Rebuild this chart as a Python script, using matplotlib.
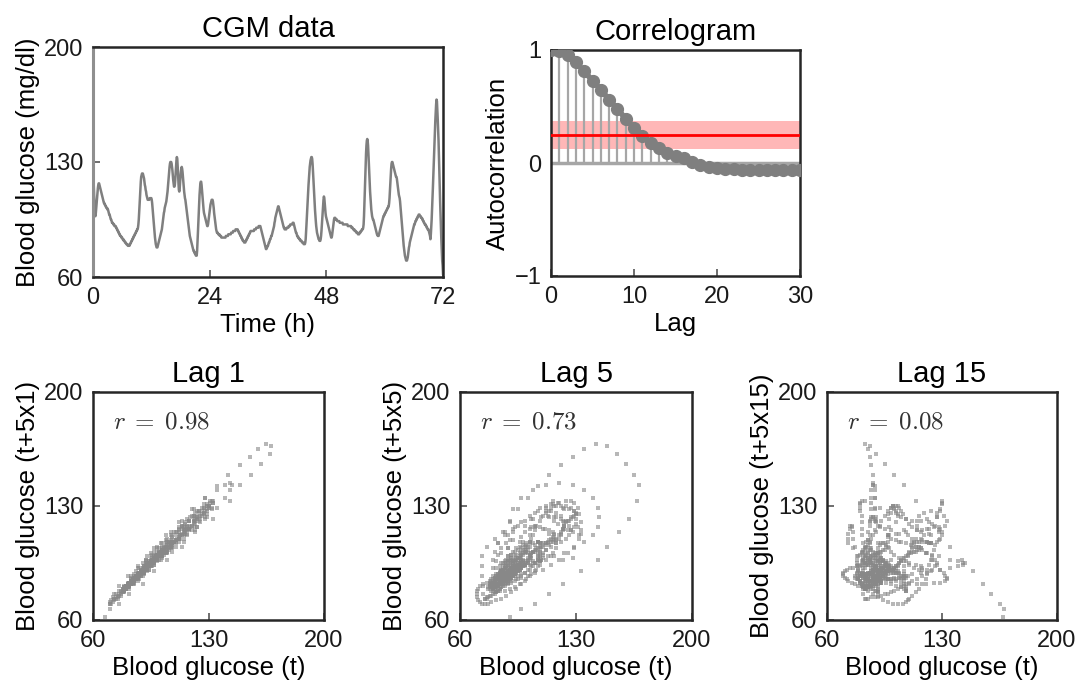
import numpy as np
import matplotlib
matplotlib.use("Agg")
import matplotlib.pyplot as plt

plt.rcParams['font.family'] = ['Liberation Sans', 'DejaVu Sans']
plt.rcParams['mathtext.fontset'] = 'cm'

# CGM series, one row per hour, 5-minute samples (mg/dl), final value at 72 h
cgm_rows = [
    [128, 122, 115, 108, 102, 98, 97, 99, 102, 105, 108, 111],
    [114, 116, 117, 117, 116, 115, 114, 113, 112, 111, 110, 109],
    [108, 107, 106, 105, 105, 104, 104, 103, 103, 102, 102, 102],
    [101, 101, 100, 99, 98, 98, 97, 96, 95, 95, 94, 93],
    [93, 93, 92, 92, 92, 91, 91, 91, 91, 90, 90, 89],
    [89, 88, 88, 87, 87, 86, 86, 85, 85, 85, 84, 84],
    [84, 83, 83, 83, 82, 82, 82, 81, 81, 81, 80, 80],
    [80, 80, 79, 79, 79, 79, 79, 80, 80, 81, 81, 82],
    [82, 83, 83, 84, 84, 85, 85, 86, 86, 87, 87, 88],
    [88, 89, 89, 90, 92, 95, 99, 104, 109, 114, 118, 121],
    [122, 123, 123, 123, 122, 121, 120, 118, 116, 115, 113, 112],
    [110, 109, 108, 107, 107, 107, 107, 107, 108, 108, 108, 108],
    [108, 107, 105, 102, 99, 96, 93, 90, 87, 84, 82, 80],
    [79, 78, 78, 78, 79, 80, 81, 82, 83, 84, 85, 86],
    [87, 88, 89, 91, 93, 95, 97, 99, 100, 102, 103, 104],
    [105, 106, 108, 110, 112, 115, 118, 121, 124, 127, 129, 130],
    [130, 130, 129, 127, 125, 122, 119, 117, 115, 115, 116, 119],
    [123, 127, 131, 133, 132, 128, 123, 117, 113, 112, 114, 118],
    [121, 124, 126, 127, 126, 124, 121, 118, 115, 112, 110, 108],
    [107, 105, 103, 101, 99, 97, 95, 93, 91, 89, 87, 85],
    [84, 83, 82, 81, 80, 79, 78, 77, 76, 76, 75, 75],
    [74, 74, 73, 73, 73, 76, 81, 87, 93, 99, 105, 110],
    [114, 117, 118, 118, 116, 113, 110, 107, 104, 101, 99, 98],
    [97, 96, 95, 94, 93, 92, 91, 91, 92, 94, 96, 98],
    [100, 102, 104, 105, 106, 107, 107, 107, 106, 104, 102, 99],
    [97, 95, 93, 91, 89, 88, 87, 87, 87, 86, 86, 86],
    [86, 85, 85, 85, 85, 84, 84, 84, 84, 84, 84, 84],
    [84, 84, 84, 84, 85, 85, 85, 85, 85, 85, 86, 86],
    [86, 86, 86, 86, 86, 87, 87, 87, 87, 87, 88, 88],
    [88, 88, 88, 88, 89, 89, 89, 89, 89, 89, 88, 88],
    [87, 87, 86, 86, 85, 85, 84, 84, 83, 83, 82, 82],
    [82, 81, 81, 81, 81, 82, 82, 83, 83, 84, 84, 85],
    [85, 86, 86, 87, 87, 88, 88, 88, 88, 88, 88, 88],
    [88, 88, 89, 89, 89, 89, 89, 90, 90, 90, 90, 90],
    [90, 91, 91, 91, 91, 91, 90, 89, 88, 87, 86, 85],
    [84, 83, 82, 81, 80, 79, 78, 77, 77, 78, 78, 79],
    [79, 80, 81, 81, 82, 83, 83, 84, 85, 85, 86, 87],
    [88, 89, 90, 91, 93, 94, 96, 97, 98, 99, 100, 101],
    [102, 103, 103, 102, 101, 100, 99, 98, 97, 96, 95, 94],
    [93, 92, 91, 90, 90, 89, 89, 89, 89, 89, 90, 90],
    [90, 90, 90, 91, 91, 91, 91, 92, 92, 92, 92, 92],
    [92, 93, 93, 93, 92, 91, 90, 89, 88, 87, 87, 86],
    [85, 85, 84, 84, 84, 83, 83, 83, 82, 82, 82, 82],
    [81, 81, 81, 81, 80, 80, 80, 80, 81, 83, 87, 92],
    [97, 102, 107, 112, 116, 120, 124, 127, 129, 131, 132, 133],
    [133, 132, 129, 125, 120, 115, 110, 105, 101, 97, 94, 91],
    [89, 87, 86, 85, 84, 83, 83, 82, 82, 82, 83, 85],
    [88, 92, 96, 100, 104, 107, 109, 108, 105, 102, 99, 97],
    [96, 95, 94, 93, 92, 91, 90, 89, 88, 87, 86, 85],
    [84, 84, 85, 87, 89, 91, 93, 95, 96, 96, 96, 95],
    [95, 95, 95, 94, 94, 94, 94, 94, 94, 93, 93, 93],
    [93, 93, 93, 93, 93, 92, 92, 92, 92, 92, 92, 92],
    [92, 92, 92, 92, 92, 91, 91, 91, 91, 91, 91, 91],
    [91, 91, 90, 90, 90, 90, 89, 89, 89, 89, 88, 88],
    [88, 88, 87, 87, 87, 87, 86, 86, 86, 86, 87, 87],
    [87, 88, 88, 88, 89, 89, 89, 90, 92, 97, 104, 112],
    [120, 128, 135, 140, 143, 144, 143, 140, 135, 129, 123, 117],
    [112, 108, 104, 101, 99, 97, 96, 95, 95, 94, 93, 92],
    [91, 90, 89, 88, 87, 86, 86, 85, 85, 85, 86, 87],
    [88, 89, 90, 91, 92, 93, 94, 95, 96, 97, 97, 98],
    [98, 99, 99, 100, 100, 101, 101, 102, 102, 103, 103, 105],
    [108, 112, 117, 122, 126, 129, 130, 130, 129, 128, 127, 126],
    [125, 124, 123, 122, 121, 121, 120, 118, 116, 114, 112, 110],
    [109, 108, 106, 103, 100, 97, 94, 91, 88, 85, 82, 79],
    [77, 75, 73, 72, 71, 70, 70, 70, 71, 72, 74, 76],
    [78, 79, 81, 82, 83, 84, 85, 86, 87, 88, 89, 90],
    [91, 92, 92, 93, 94, 94, 95, 95, 96, 96, 97, 97],
    [98, 98, 98, 97, 97, 97, 96, 96, 96, 95, 95, 94],
    [94, 93, 93, 92, 92, 92, 91, 91, 90, 90, 89, 89],
    [89, 88, 87, 86, 85, 83, 86, 90, 95, 101, 107, 114],
    [121, 128, 135, 142, 149, 155, 160, 165, 168, 167, 162, 156],
    [149, 143, 133, 122, 114, 105, 97, 90, 82, 76, 70, 67],
]
cgm_last = 62
sample_minutes = 5

# Autocorrelation (lags 0..30)
acf_lags = list(range(31))
acf_values = [1.00, 0.99, 0.96, 0.89, 0.81, 0.73, 0.65, 0.56, 0.48, 0.39,
              0.31, 0.24, 0.18, 0.13, 0.09, 0.065, 0.04, 0.01, -0.02, -0.035,
              -0.045, -0.05, -0.055, -0.06, -0.06, -0.06, -0.06, -0.06, -0.06, -0.06, -0.06]
band_center = 0.25
band_low = 0.12
band_high = 0.375

scatter_lags = [1, 5, 15]
scatter_r = ["0.98", "0.73", "0.08"]

glucose = np.array([v for row in cgm_rows for v in row] + [cgm_last], dtype=float)
time_h = np.arange(len(glucose)) * sample_minutes / 60.0

W, H = 1077, 683
fig = plt.figure(figsize=(W / 100, H / 100), dpi=100)

def px_axes(left, top, right, bottom):
    return fig.add_axes([left / W, 1 - bottom / H, (right - left) / W, (bottom - top) / H])

spine_color = '#262626'
line_gray = '#7f7f7f'
TICK = 17
LABEL = 18.5
TITLE = 21

def style(ax):
    for s in ax.spines.values():
        s.set_color(spine_color)
        s.set_linewidth(1.8)
    ax.tick_params(direction='in', length=5, width=1.2, colors='#555555',
                   labelsize=TICK, labelcolor='#1a1a1a', pad=7)

# CGM data
ax1 = px_axes(93, 47, 443, 277)
ax1.plot(time_h, glucose, color=line_gray, lw=1.8)
ax1.set_xlim(0, 72)
ax1.set_ylim(60, 200)
ax1.set_xticks([0, 24, 48, 72])
ax1.set_yticks([60, 130, 200])
style(ax1)
ax1.spines['left'].set_color('#8f8f8f')
ax1.spines['left'].set_linewidth(2.2)
ax1.set_title('CGM data', fontsize=TITLE, pad=7)
ax1.set_xlabel('Time (h)', fontsize=LABEL, labelpad=3)
ax1.set_ylabel('Blood glucose (mg/dl)', fontsize=LABEL, labelpad=3)

# Correlogram
ax2 = px_axes(551, 50, 800, 276)
ax2.axhspan(band_low, band_high, color='#ff4d4d', alpha=0.4, lw=0, zorder=1)
ax2.axhline(band_center, color='#ff0000', lw=2, zorder=4)
ax2.vlines(acf_lags, 0, acf_values, color='#a6a6a6', lw=1.6, zorder=2)
ax2.plot([0, 30], [0, 0], color='#a6a6a6', lw=2.5, zorder=2)
ax2.plot(acf_lags, acf_values, color=line_gray, lw=4, marker='o', ms=8.5,
         mec=line_gray, mfc=line_gray, zorder=3)
ax2.set_xlim(0, 30)
ax2.set_ylim(-1, 1)
ax2.set_xticks([0, 10, 20, 30])
ax2.set_yticks([-1, 0, 1])
style(ax2)
ax2.set_title('Correlogram', fontsize=TITLE, pad=7)
ax2.set_xlabel('Lag', fontsize=LABEL, labelpad=3)
ax2.set_ylabel('Autocorrelation', fontsize=LABEL, labelpad=3)

# Lag scatter plots
boxes = [(93, 392, 324, 620), (460, 392, 692, 620), (827, 392, 1057, 620)]
for (l, t, r, b), k, rtxt in zip(boxes, scatter_lags, scatter_r):
    ax = px_axes(l, t, r, b)
    ax.scatter(glucose[:-k], glucose[k:], s=5, marker='s', color='#888888',
               alpha=0.6, linewidths=0)
    ax.set_xlim(60, 200)
    ax.set_ylim(60, 200)
    ax.set_xticks([60, 130, 200])
    ax.set_yticks([60, 130, 200])
    style(ax)
    ax.set_title(f'Lag {k}', fontsize=TITLE, pad=7)
    ax.set_xlabel('Blood glucose (t)', fontsize=LABEL, labelpad=3)
    ax.set_ylabel(f'Blood glucose (t+5x{k})', fontsize=LABEL, labelpad=3)
    ax.text(72, 182, rf'$r\;=\;{rtxt}$', fontsize=18, ha='left', va='center',
            color='#333333')

fig.savefig('out.png', dpi=100)
